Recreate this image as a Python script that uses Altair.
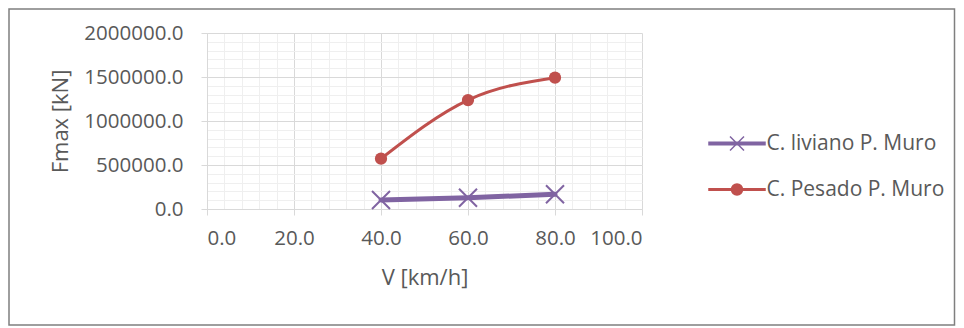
import altair as alt
import pandas as pd

# ---- data ----
speeds = [40, 60, 80]
liviano = [102000, 128000, 167000]
pesado = [572000, 1238000, 1492000]
series_names = ["C. liviano P. Muro", "C. Pesado P. Muro"]
series_colors = ["#8064A2", "#C0504D"]
series_widths = [5, 3]
x_ticks = [0, 20, 40, 60, 80, 100]
y_ticks = [0, 500000, 1000000, 1500000, 2000000]
x_minor = list(range(0, 101, 4))
y_minor = list(range(0, 2000001, 100000))

rows = []
for v, a, b in zip(speeds, liviano, pesado):
    rows.append({"V": v, "F": a, "serie": series_names[0]})
    rows.append({"V": v, "F": b, "serie": series_names[1]})
df = pd.DataFrame(rows)

FONT = "Open Sans"
TXT = "#595959"
MAJOR = "#d9d9d9"
MINOR = "#efefef"

xs = alt.Scale(domain=[0, 100], nice=False, zero=False)
ys = alt.Scale(domain=[0, 2000000], nice=False)
cs = alt.Scale(domain=series_names, range=series_colors)

base = alt.Chart(df)

# minor grid (own, label-less axes)
minor = base.mark_point(opacity=0).encode(
    x=alt.X("V:Q", scale=xs, axis=alt.Axis(values=x_minor, orient="top", grid=True, gridColor=MINOR,
                                           gridWidth=1, labels=False, ticks=False, domain=False, title=None)),
    y=alt.Y("F:Q", scale=ys, axis=alt.Axis(values=y_minor, orient="right", grid=True, gridColor=MINOR,
                                           gridWidth=1, labels=False, ticks=False, domain=False, title=None)),
)

# major axes carried by an invisible layer
axes = base.mark_point(opacity=0).encode(
    x=alt.X("V:Q", scale=xs, axis=alt.Axis(
        values=x_ticks, format=".1f", orient="bottom", grid=True, gridColor=MAJOR, gridWidth=1,
        domainColor=MAJOR, domainWidth=1, tickColor=MAJOR, tickSize=6, tickWidth=1,
        labelFont=FONT, labelFontSize=20.5, labelColor=TXT, labelPadding=13,
        title="V [km/h]", titleFont=FONT, titleFontSize=22, titleFontWeight="normal", titleColor=TXT,
        titleBaseline="alphabetic", titleX=217.5, titleY=75)),
    y=alt.Y("F:Q", scale=ys, axis=alt.Axis(
        values=y_ticks, format=".1f", orient="left", grid=True, gridColor=MAJOR, gridWidth=1,
        domainColor=MAJOR, domainWidth=1, tickColor=MAJOR, tickSize=6, tickWidth=1,
        labelFont=FONT, labelFontSize=20.5, labelColor=TXT, labelPadding=18,
        title="Fmax [kN]", titleFont=FONT, titleFontSize=22, titleFontWeight="normal", titleColor=TXT,
        titleBaseline="alphabetic", titleAngle=270, titleX=-140, titleY=88)),
)

liv_path = "M-28,-1.25L28,-1.25L28,1.25L-28,1.25Z M-7,-7L7,7 M-7,7L7,-7"
pes_path = "M-28,-0.75L28,-0.75L28,0.75L-28,0.75Z M5.5,0A5.5,5.5 0 1,1 -5.5,0A5.5,5.5 0 1,1 5.5,0Z"
shape_expr = "datum.value === '%s' ? '%s' : '%s'" % (series_names[0], liv_path, pes_path)
col_expr = "datum.value === '%s' ? '%s' : '%s'" % (series_names[0], series_colors[0], series_colors[1])

# legend carried by an empty line layer (thin stroke)
legend_layer = base.transform_filter("false").mark_line(strokeWidth=1.5).encode(
    x=alt.X("V:Q", scale=xs, axis=None), y=alt.Y("F:Q", scale=ys, axis=None),
    color=alt.Color("serie:N", scale=cs, legend=alt.Legend(
        title=None, orient="none", legendX=519.5, legendY=100, padding=0,
        symbolSize=4, labelOffset=19, rowPadding=24,
        labelFont=FONT, labelFontSize=21, labelColor=TXT, labelLimit=400,
        symbolType={"expr": shape_expr},
        symbolFillColor={"expr": col_expr},
        symbolStrokeColor={"expr": col_expr},
        symbolStrokeWidth=1.5, symbolOpacity=1)),
)

line_l = base.transform_filter(alt.datum.serie == series_names[0]).mark_line(
    interpolate="monotone", strokeCap="round", strokeJoin="round", strokeWidth=series_widths[0]).encode(
    x=alt.X("V:Q", scale=xs, axis=None), y=alt.Y("F:Q", scale=ys, axis=None),
    color=alt.Color("serie:N", scale=cs, legend=None))

line_p = base.transform_filter(alt.datum.serie == series_names[1]).mark_line(
    interpolate="monotone", strokeCap="round", strokeJoin="round", strokeWidth=series_widths[1]).encode(
    x=alt.X("V:Q", scale=xs, axis=None), y=alt.Y("F:Q", scale=ys, axis=None),
    color=alt.Color("serie:N", scale=cs, legend=None))

pts_l = base.transform_filter(alt.datum.serie == series_names[0]).mark_point(
    shape="M-1,-1L1,1M-1,1L1,-1", size=324, filled=False, strokeWidth=2,
    color=series_colors[0], opacity=1).encode(
    x=alt.X("V:Q", scale=xs, axis=None), y=alt.Y("F:Q", scale=ys, axis=None))

pts_p = base.transform_filter(alt.datum.serie == series_names[1]).mark_point(
    shape="circle", size=150, filled=True, color=series_colors[1], opacity=1).encode(
    x=alt.X("V:Q", scale=xs, axis=None), y=alt.Y("F:Q", scale=ys, axis=None))

border = alt.Chart(alt.Data(values=[{}])).mark_rect(
    filled=False, stroke="#7f7f7f", strokeWidth=1.5).encode(
    x=alt.value(-198), x2=alt.value(747.5), y=alt.value(-24), y2=alt.value(292))

chart = alt.layer(minor, axes, legend_layer, line_l, line_p, pts_l, pts_p, border).resolve_axis(
    x="independent", y="independent"
).properties(
    width=435, height=176,
    autosize=alt.AutoSizeParams(type="none"),
    padding={"left": 199, "top": 25, "right": 314, "bottom": 117},
    background="white",
).configure_view(stroke=None)

chart.save("out.html", embed_options={"renderer": "svg", "actions": False})
